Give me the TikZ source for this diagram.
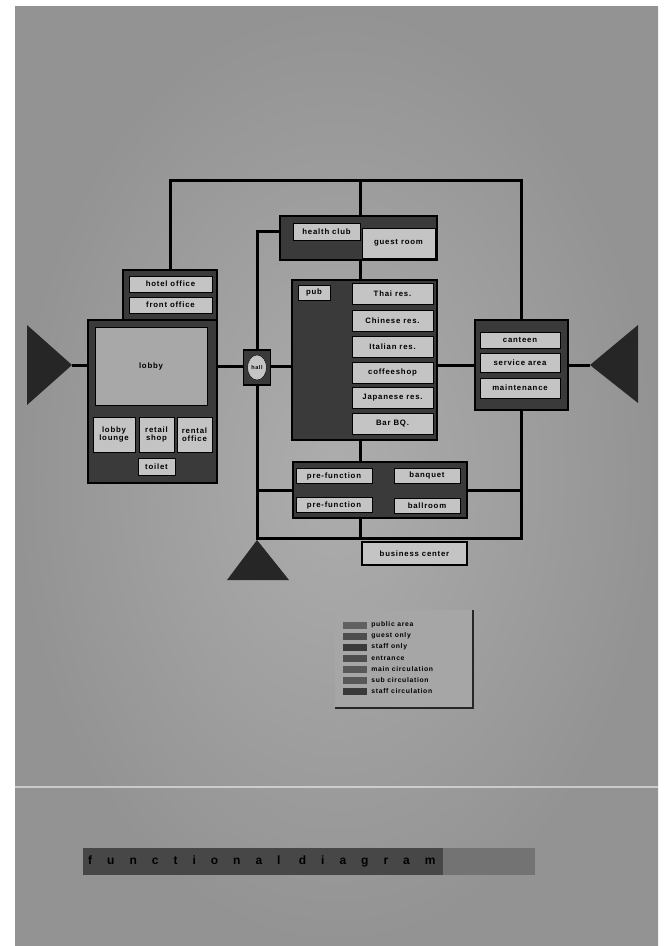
\documentclass[tikz,border=0pt]{standalone}
\usepackage{fontspec}
\setmainfont{Liberation Sans}
\newfontfamily\roomfont[LetterSpace=10]{Liberation Sans}
\newfontfamily\titlefont[LetterSpace=125]{Liberation Sans}
\usetikzlibrary{positioning, shapes.geometric}

\definecolor{paper}{HTML}{939393}
\definecolor{paperlight}{HTML}{ADADAD}
\definecolor{darkfill}{HTML}{3A3A3A}
\definecolor{lightfill}{HTML}{C4C4C4}
\definecolor{lobbyfill}{HTML}{A8A8A8}
\definecolor{legendfill}{HTML}{A6A6A6}

\tikzset{
    sz/.style 2 args={minimum width=#1pt, minimum height=#2pt},
    wrap/.style={draw=black, line width=1.8pt, fill=darkfill, inner sep=0pt},
    room/.style={draw=black, line width=0.6pt, fill=lightfill, inner sep=0pt, text=black,
        align=center, font=\roomfont\bfseries\fontsize{7.8}{8.2}\selectfont},
    pipe/.style={line width=3pt, draw=black},
    swatch/.style={fill=darkfill, inner sep=0pt, minimum width=24pt, minimum height=7pt},
    legtext/.style={anchor=west, inner sep=0pt, text=black, font=\roomfont\bfseries\fontsize{6.8}{7}\selectfont},
}

\begin{document}
\begin{tikzpicture}[x=1pt, y=-1pt]
    % paper
    \fill[white] (0,0) rectangle (668,946);
    \shade[inner color=paperlight, outer color=paper] (15,6) rectangle (658,946);
    \useasboundingbox (0,0) rectangle (668,946);
    \draw[white, opacity=0.5, line width=1.5pt] (15,787) -- (658,787);

    % guest wing (health club, restaurants)
    \node[wrap, sz={157}{44}] (healthwrap) at (358.5,238) {};
    \node[room, sz={67}{17}] (health) at (326.5,231.5) {health club};
    \node[room, sz={73}{30}] (guest) at (398.5,243) {guest room};

    \node[wrap, sz={145}{160}] (restwrap) at (364.5,360) {};
    \node[room, sz={32}{15}] (pub) at (314,292.5) {pub};
    \node[room, sz={81}{21}] (thai) at (392.5,294) {Thai res.};
    \node[room, sz={81}{21}] (chinese) at (392.5,321) {Chinese res.};
    \node[room, sz={81}{21}] (italian) at (392.5,346.5) {Italian res.};
    \node[room, sz={81}{21}] (coffee) at (392.5,372.5) {coffeeshop};
    \node[room, sz={81}{21}] (japanese) at (392.5,397.5) {Japanese res.};
    \node[room, sz={81}{21}] (barbq) at (392.5,424) {Bar BQ.};

    % service wing
    \node[wrap, sz={93}{90}] (canteenwrap) at (521.5,365) {};
    \node[room, sz={80}{16}] (canteen) at (520,340) {canteen};
    \node[room, sz={80}{19}] (service) at (520,362.5) {service area};
    \node[room, sz={80}{20}] (maint) at (520,388) {maintenance};

    % office and lobby
    \node[wrap, sz={94}{50}] (officewrap) at (170,295) {};
    \node[room, sz={83}{16}] (hoteloffice) at (170.5,284) {hotel office};
    \node[room, sz={83}{16}] (frontoffice) at (170.5,305) {front office};

    \node[wrap, sz={129}{163}] (lobbywrap) at (152.5,401.5) {};
    \node[room, fill=lobbyfill, sz={112}{78}] (lobby) at (151,366) {lobby};
    \node[room, sz={42}{35}] (lounge) at (114,434.5) {lobby\\lounge};
    \node[room, sz={35}{35}] (retail) at (156.5,434.5) {retail\\shop};
    \node[room, sz={35}{35}] (rental) at (194.5,434.5) {rental\\office};
    \node[room, sz={37}{17}] (toilet) at (156.5,466.5) {toilet};

    % banquet
    \node[wrap, sz={174}{56}] (banquetwrap) at (380,490) {};
    \node[room, sz={76}{15}] (prefun1) at (334,476) {pre-function};
    \node[room, sz={76}{15}] (prefun2) at (334,505) {pre-function};
    \node[room, sz={66}{15}] (banquet) at (427,475.5) {banquet};
    \node[room, sz={66}{15}] (ballroom) at (427,505.5) {ballroom};

    % circulation
    \coordinate (topline) at (0,180);
    \coordinate (botline) at (0,538);
    \coordinate (spine) at (360,0);
    \coordinate (lv) at (257,0);
    \coordinate (lentry) at (72,365);
    \coordinate (rentry) at (590,365);
    \coordinate (bentry) at (257,540);
    \draw[pipe] (officewrap.north) -- (officewrap.north |- topline)
        -- (canteenwrap.north |- topline) -- (canteenwrap.north);
    \draw[pipe] (spine |- topline) -- (healthwrap.north -| spine);
    \draw[pipe] (healthwrap.south -| spine) -- (restwrap.north -| spine);
    \draw[pipe] (healthwrap.west |- health) -- (lv |- health) -- (lv |- botline)
        -- (canteenwrap.south |- botline) -- (canteenwrap.south);
    \draw[pipe] (restwrap.south -| spine) -- (banquetwrap.north -| spine);
    \draw[pipe] (banquetwrap.south -| spine) -- (spine |- botline);
    \draw[pipe] (lv |- banquetwrap.west) -- (banquetwrap.west);
    \draw[pipe] (banquetwrap.east) -- (canteenwrap.south |- banquetwrap.east);
    \draw[pipe] (restwrap.east |- canteenwrap.west) -- (canteenwrap.west);
    \draw[pipe] (canteenwrap.east) -- (rentry);
    \draw[pipe] (lentry) -- (lobbywrap.west |- lentry);
    \draw[pipe] (lobbywrap.east |- lobby) -- (restwrap.west |- lobby);

    % hall on the sub circulation
    \node[wrap, sz={27}{35}] (hallwrap) at (257,367.5) {};
    \node[ellipse, draw=black, fill=lightfill, inner sep=0pt, minimum width=19pt, minimum height=25pt,
        font=\roomfont\bfseries\fontsize{5.5}{5.5}\selectfont] (hall) at (hallwrap) {hall};

    \node[room, line width=1.8pt, sz={105}{23}] (business) at (414.5,553.5) {business center};

    % entrances
    \fill[black!85] (lentry) -- (27,325) -- (27,405) -- cycle;
    \fill[black!85] (rentry) -- (638,325) -- (638,403) -- cycle;
    \fill[black!85] (bentry) -- (227,580) -- (289,580) -- cycle;

    % legend
    \node[fill=legendfill, sz={138}{98}, inner sep=0pt] (legend) at (404,659) {};
    \draw[black!85, line width=1.5pt] (legend.north east) -- (legend.south east) -- (legend.south west);
    \node[swatch, fill=darkfill!80] (sw1) at (355,625) {};
    \node[swatch, fill=darkfill!90] (sw2) at (355,636) {};
    \node[swatch, fill=darkfill] (sw3) at (355,647) {};
    \node[swatch, fill=darkfill!90] (sw4) at (355,658) {};
    \node[swatch, fill=darkfill!85] (sw5) at (355,669) {};
    \node[swatch, fill=darkfill!85] (sw6) at (355,680) {};
    \node[swatch, fill=darkfill] (sw7) at (355,691) {};
    \node[legtext, right=4pt of sw1] {public area};
    \node[legtext, right=4pt of sw2] {guest only};
    \node[legtext, right=4pt of sw3] {staff only};
    \node[legtext, right=4pt of sw4] {entrance};
    \node[legtext, right=4pt of sw5] {main circulation};
    \node[legtext, right=4pt of sw6] {sub circulation};
    \node[legtext, right=4pt of sw7] {staff circulation};

    % title bar
    \fill[black!55] (83,848) rectangle (535,875);
    \node[fill=black!72, sz={360}{27}, inner sep=0pt, anchor=north west] (titlebar) at (83,848) {};
    \node[anchor=west, inner sep=0pt, text=black, font=\titlefont\bfseries\fontsize{12}{13}\selectfont]
        (title) at (88,861.5) {functional diagram};
\end{tikzpicture}
\end{document}
